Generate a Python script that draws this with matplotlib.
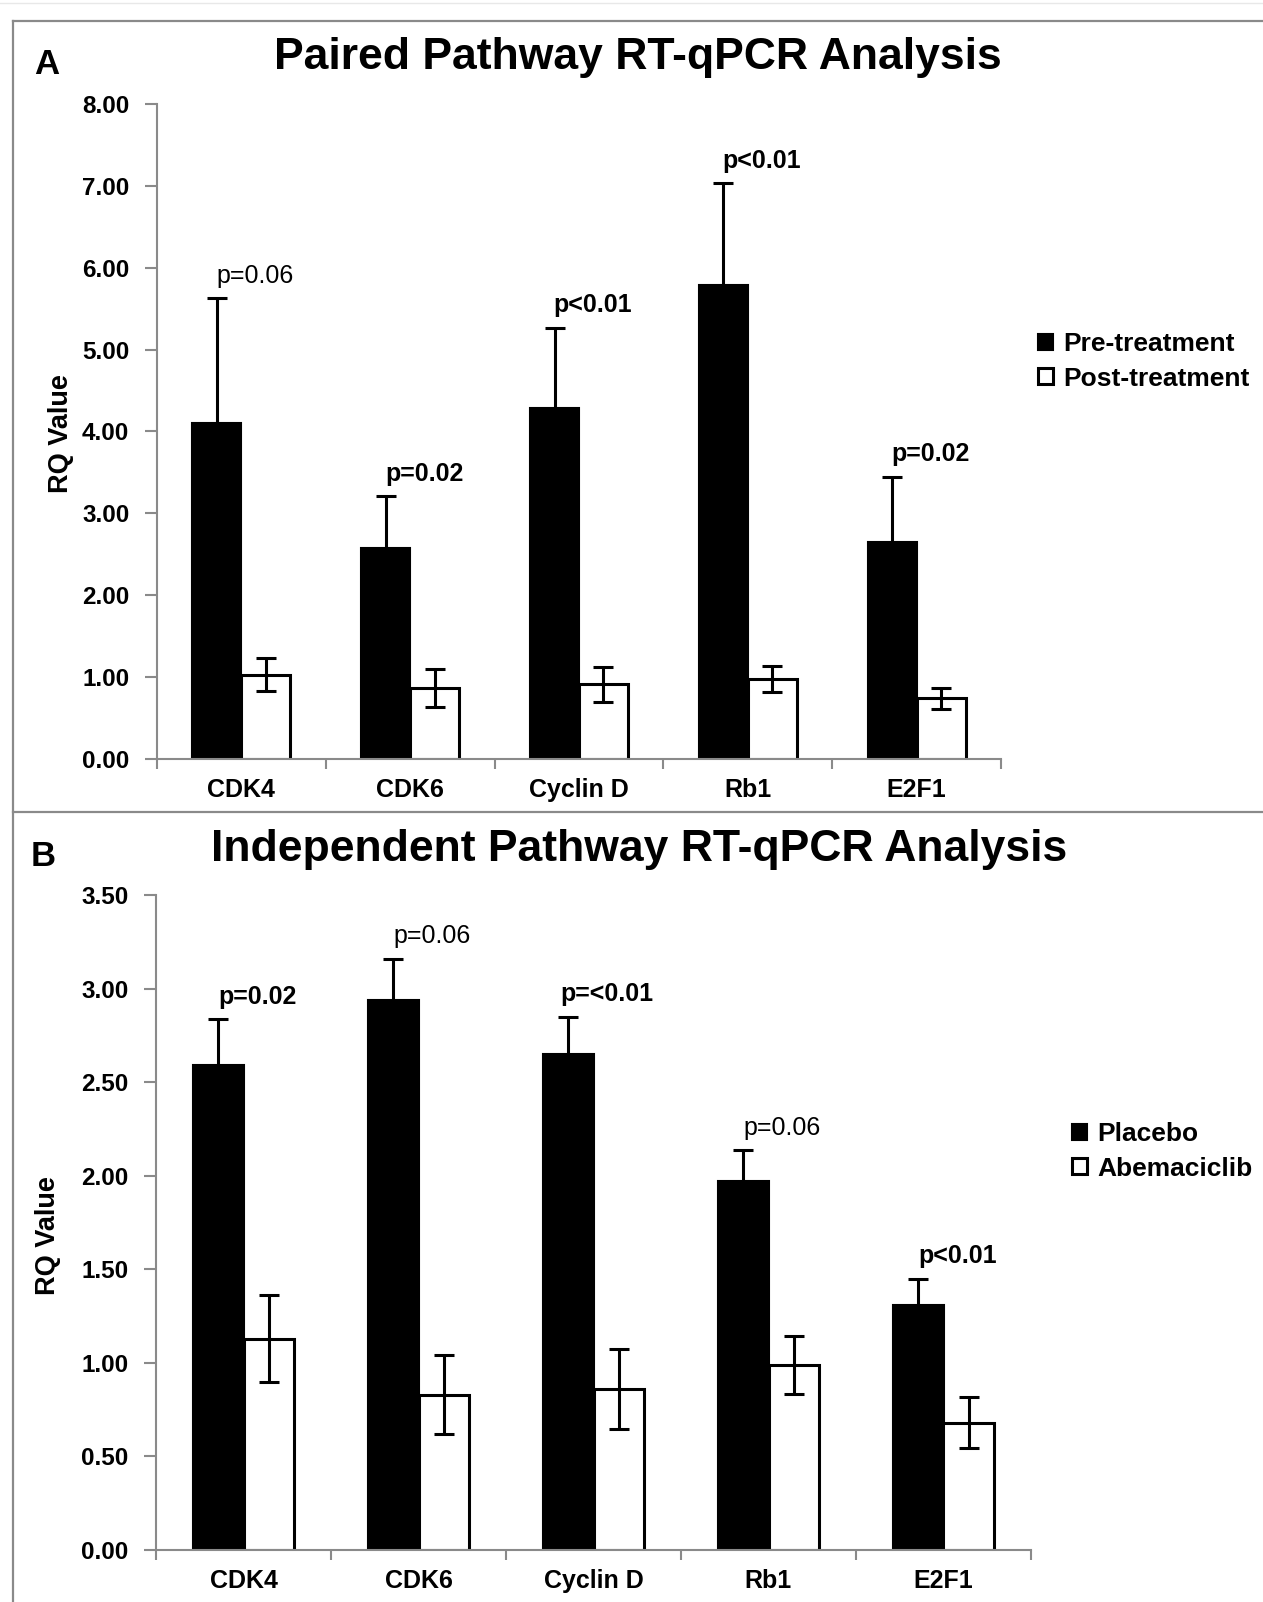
import matplotlib
matplotlib.use("Agg")
import matplotlib.pyplot as plt
from matplotlib.lines import Line2D
import numpy as np

plt.rcParams['font.family'] = ['Liberation Sans', 'DejaVu Sans']

genes = ["CDK4", "CDK6", "Cyclin D", "Rb1", "E2F1"]

# Panel A - paired samples
pre_vals = [4.10, 2.58, 4.29, 5.79, 2.65]
pre_err = [1.53, 0.63, 0.98, 1.24, 0.80]
post_vals = [1.03, 0.87, 0.91, 0.98, 0.74]
post_err = [0.20, 0.23, 0.21, 0.16, 0.13]
pvals_a = ["p=0.06", "p=0.02", "p<0.01", "p<0.01", "p=0.02"]
bold_a = [False, True, True, True, True]

# Panel B - independent groups
placebo_vals = [2.59, 2.94, 2.65, 1.97, 1.31]
placebo_err = [0.245, 0.22, 0.20, 0.165, 0.14]
abema_vals = [1.13, 0.83, 0.86, 0.99, 0.68]
abema_err = [0.23, 0.21, 0.215, 0.155, 0.136]
pvals_b = ["p=0.02", "p=0.06", "p=<0.01", "p=0.06", "p<0.01"]
bold_b = [True, False, True, False, True]

W, H = 1263, 1602
fig = plt.figure(figsize=(W / 100, H / 100), dpi=100)

GRAY = "#8a8a8a"


def draw_panel(ax, v1, e1, v2, e2, pvals, bold, labels, ymax, ystep):
    x = np.arange(len(genes))
    w = 0.29
    ax.bar(x - w / 2, v1, w, color="black", edgecolor="black", linewidth=1.5, label=labels[0])
    ax.bar(x + w / 2, v2, w, color="white", edgecolor="black", linewidth=2.2, label=labels[1])
    ax.errorbar(x - w / 2, v1, yerr=e1, fmt="none", ecolor="black", elinewidth=2.2, capsize=7, capthick=2.2)
    ax.errorbar(x + w / 2, v2, yerr=e2, fmt="none", ecolor="black", elinewidth=2.2, capsize=7, capthick=2.2)

    for i in range(len(genes)):
        top = v1[i] + e1[i]
        ax.annotate(pvals[i], (x[i], top), xytext=(10, 16), textcoords="offset points",
                    ha="center", va="center", fontsize=18,
                    fontweight="bold" if bold[i] else "normal")

    ax.set_xlim(-0.5, len(genes) - 0.5)
    ax.set_ylim(0, ymax)
    ticks = np.arange(0, ymax + ystep / 2, ystep)
    ax.set_yticks(ticks)
    ax.set_yticklabels(["%.2f" % t for t in ticks], fontsize=17.5, fontweight="bold")
    ax.set_xticks(np.arange(-0.5, len(genes), 1.0))
    ax.set_xticklabels([])
    ax.set_xticks(x, minor=True)
    ax.set_xticklabels(genes, minor=True, fontsize=18, fontweight="bold")
    ax.tick_params(axis="x", which="minor", length=0, pad=14)
    ax.tick_params(axis="x", which="major", length=7, width=1.5, color=GRAY, direction="out")
    ax.tick_params(axis="y", length=9, width=1.5, color=GRAY, direction="out", pad=11)

    for s in ["top", "right"]:
        ax.spines[s].set_visible(False)
    for s in ["left", "bottom"]:
        ax.spines[s].set_color(GRAY)
        ax.spines[s].set_linewidth(1.5)


legend_kw = dict(bbox_transform=fig.transFigure, loc="center left", frameon=False,
                 borderpad=0, borderaxespad=0, handlelength=0.55, handleheight=0.55,
                 handletextpad=0.4, labelspacing=0.4, prop={"size": 19, "weight": "bold"})

# Panel A
ax1 = fig.add_axes([157 / W, 1 - 759 / H, 844 / W, 655 / H])
draw_panel(ax1, pre_vals, pre_err, post_vals, post_err, pvals_a, bold_a,
           ["Pre-treatment", "Post-treatment"], 8.0, 1.0)
ax1.legend(bbox_to_anchor=(1038 / W, 1 - 361.5 / H), **legend_kw)

# Panel B
ax2 = fig.add_axes([156 / W, 1 - 1550 / H, 875 / W, 655 / H])
draw_panel(ax2, placebo_vals, placebo_err, abema_vals, abema_err, pvals_b, bold_b,
           ["Placebo", "Abemaciclib"], 3.5, 0.5)
ax2.legend(bbox_to_anchor=(1072 / W, 1 - 1151.5 / H), **legend_kw)

# titles, panel letters, axis labels
fig.text(638 / W, 1 - 58 / H, "Paired Pathway RT-qPCR Analysis", ha="center", va="center",
         fontsize=32, fontweight="bold")
fig.text(639 / W, 1 - 850 / H, "Independent Pathway RT-qPCR Analysis", ha="center", va="center",
         fontsize=32, fontweight="bold")
fig.text(47 / W, 1 - 64 / H, "A", ha="center", va="center", fontsize=25, fontweight="bold")
fig.text(43 / W, 1 - 856 / H, "B", ha="center", va="center", fontsize=25, fontweight="bold")
fig.text(61 / W, 1 - 434 / H, "RQ Value", ha="center", va="center", rotation=90,
         fontsize=19.5, fontweight="bold")
fig.text(48 / W, 1 - 1236 / H, "RQ Value", ha="center", va="center", rotation=90,
         fontsize=19.5, fontweight="bold")

# panel frame lines
frame = dict(color=GRAY, linewidth=1.6, transform=fig.transFigure)
fig.add_artist(Line2D([13 / W, 13 / W], [0, 1 - 21 / H], **frame))
fig.add_artist(Line2D([13 / W, 1], [1 - 21 / H, 1 - 21 / H], **frame))
fig.add_artist(Line2D([13 / W, 1], [1 - 812 / H, 1 - 812 / H], **frame))
fig.add_artist(Line2D([0, 1], [1 - 3 / H, 1 - 3 / H], color="#e8e8e8", linewidth=1,
                      transform=fig.transFigure))

fig.savefig("out.png", dpi=100)
